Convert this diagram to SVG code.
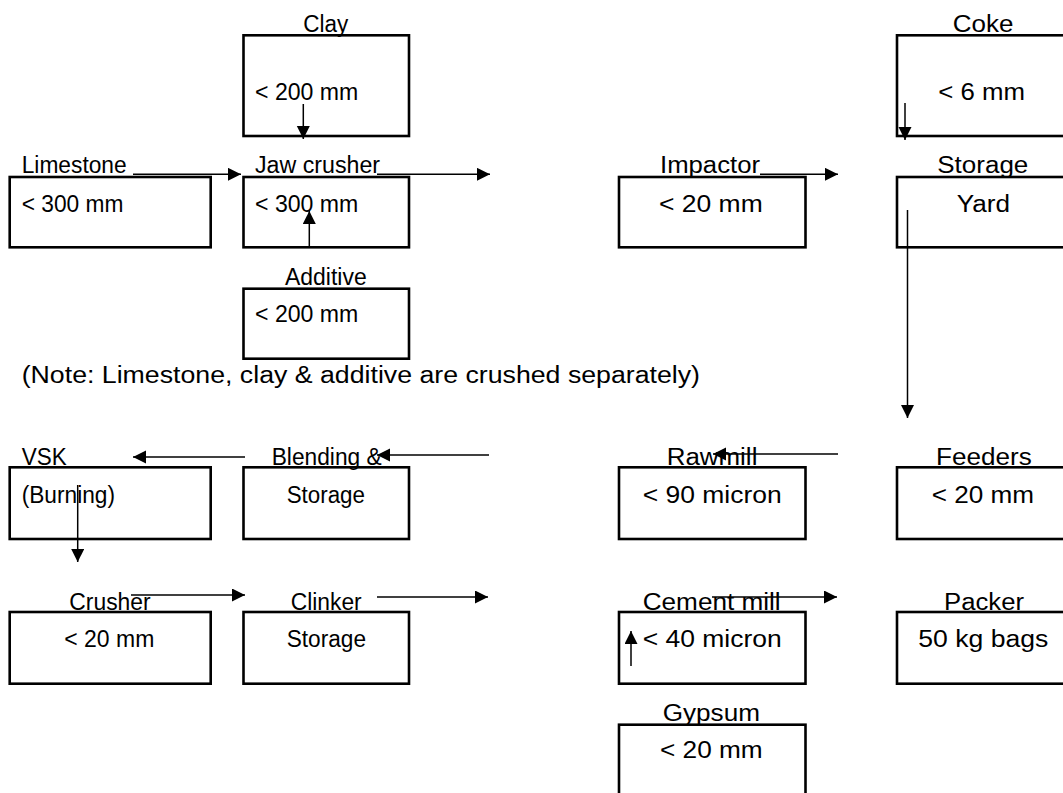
<svg xmlns="http://www.w3.org/2000/svg" width="1063" height="793" viewBox="0 0 1063 793">
<style>
.box{fill:none;stroke:#000;stroke-width:2.6}
.t{font-family:"Liberation Sans",Arial,Helvetica,sans-serif;font-size:23px;fill:#000}
.c{fill:none;stroke:#000;stroke-width:1.5;marker-end:url(#ah)}
</style>
<defs>
<marker id="ah" markerUnits="userSpaceOnUse" markerWidth="14" markerHeight="14" refX="13" refY="6.5" orient="auto">
<path d="M0,0 L13,6.5 L0,13 Z" fill="#000"/>
</marker>
</defs>
<rect width="1063" height="793" fill="#fff"/>
<g id="clay">
<rect class="box" x="243.5" y="35.3" width="165.5" height="100.7"/>
<text class="t" x="303.3" y="32.3" textLength="45" lengthAdjust="spacingAndGlyphs">Clay</text>
<text class="t" x="255" y="100" textLength="103.3" lengthAdjust="spacingAndGlyphs">&lt; 200 mm</text>
</g>
<g id="limestone">
<rect class="box" x="9.7" y="177" width="201" height="70.3"/>
<text class="t" x="21.7" y="173" textLength="105" lengthAdjust="spacingAndGlyphs">Limestone</text>
<text class="t" x="21.7" y="211.7" textLength="101.7" lengthAdjust="spacingAndGlyphs">&lt; 300 mm</text>
</g>
<g id="jaw-crusher">
<rect class="box" x="243.5" y="177" width="165.5" height="70.3"/>
<text class="t" x="255" y="173" textLength="125" lengthAdjust="spacingAndGlyphs">Jaw crusher</text>
<text class="t" x="255" y="211.7" textLength="103.3" lengthAdjust="spacingAndGlyphs">&lt; 300 mm</text>
</g>
<g id="additive">
<rect class="box" x="243.5" y="288.7" width="165.5" height="70"/>
<text class="t" x="285" y="285" textLength="81.7" lengthAdjust="spacingAndGlyphs">Additive</text>
<text class="t" x="255" y="321.7" textLength="103.3" lengthAdjust="spacingAndGlyphs">&lt; 200 mm</text>
</g>
<g id="impactor">
<rect class="box" x="619" y="177" width="186.5" height="70.3"/>
<text class="t" x="660" y="173" textLength="100" lengthAdjust="spacingAndGlyphs">Impactor</text>
<text class="t" x="659" y="211.7" textLength="103.7" lengthAdjust="spacingAndGlyphs">&lt; 20 mm</text>
</g>
<g id="coke">
<rect class="box" x="897" y="35.3" width="180" height="100.7"/>
<text class="t" x="952.7" y="32.3" textLength="60.7" lengthAdjust="spacingAndGlyphs">Coke</text>
<text class="t" x="938.3" y="100" textLength="86.7" lengthAdjust="spacingAndGlyphs">&lt; 6 mm</text>
</g>
<g id="storage-yard">
<rect class="box" x="897" y="177" width="180" height="70.3"/>
<text class="t" x="937.3" y="173" textLength="91" lengthAdjust="spacingAndGlyphs">Storage</text>
<text class="t" x="956.7" y="211.7" textLength="53.3" lengthAdjust="spacingAndGlyphs">Yard</text>
</g>
<g id="note">
<text class="t" x="21.7" y="382.7" textLength="678.3" lengthAdjust="spacingAndGlyphs">(Note: Limestone, clay &amp; additive are crushed separately)</text>
</g>
<g id="vsk">
<rect class="box" x="9.7" y="467.3" width="201" height="71.7"/>
<text class="t" x="21.7" y="465" textLength="45" lengthAdjust="spacingAndGlyphs">VSK</text>
<text class="t" x="21.7" y="503" textLength="93.3" lengthAdjust="spacingAndGlyphs">(Burning)</text>
</g>
<g id="blending">
<rect class="box" x="243.5" y="467.3" width="165.5" height="71.7"/>
<text class="t" x="271.7" y="465" textLength="110" lengthAdjust="spacingAndGlyphs">Blending &amp;</text>
<text class="t" x="286.7" y="503" textLength="78.3" lengthAdjust="spacingAndGlyphs">Storage</text>
</g>
<g id="rawmill">
<rect class="box" x="619" y="467.3" width="186.5" height="71.7"/>
<text class="t" x="666.7" y="465" textLength="90.7" lengthAdjust="spacingAndGlyphs">Rawmill</text>
<text class="t" x="642.7" y="503" textLength="139" lengthAdjust="spacingAndGlyphs">&lt; 90 micron</text>
</g>
<g id="feeders">
<rect class="box" x="897" y="467.3" width="180" height="71.7"/>
<text class="t" x="936" y="465" textLength="95.7" lengthAdjust="spacingAndGlyphs">Feeders</text>
<text class="t" x="931.7" y="503" textLength="102.3" lengthAdjust="spacingAndGlyphs">&lt; 20 mm</text>
</g>
<g id="crusher">
<rect class="box" x="9.7" y="612" width="201" height="71.7"/>
<text class="t" x="69.3" y="610" textLength="81.3" lengthAdjust="spacingAndGlyphs">Crusher</text>
<text class="t" x="64.3" y="646.5" textLength="90" lengthAdjust="spacingAndGlyphs">&lt; 20 mm</text>
</g>
<g id="clinker">
<rect class="box" x="243.5" y="612" width="165.5" height="71.7"/>
<text class="t" x="290.7" y="610" textLength="71" lengthAdjust="spacingAndGlyphs">Clinker</text>
<text class="t" x="286.7" y="646.5" textLength="79.3" lengthAdjust="spacingAndGlyphs">Storage</text>
</g>
<g id="cement-mill">
<rect class="box" x="619" y="612" width="186.5" height="71.7"/>
<text class="t" x="642.7" y="610" textLength="138" lengthAdjust="spacingAndGlyphs">Cement mill</text>
<text class="t" x="642.7" y="646.5" textLength="139" lengthAdjust="spacingAndGlyphs">&lt; 40 micron</text>
</g>
<g id="packer">
<rect class="box" x="897" y="612" width="180" height="71.7"/>
<text class="t" x="944" y="610" textLength="80" lengthAdjust="spacingAndGlyphs">Packer</text>
<text class="t" x="918.3" y="646.5" textLength="130" lengthAdjust="spacingAndGlyphs">50 kg bags</text>
</g>
<g id="gypsum">
<rect class="box" x="619" y="724.7" width="186.5" height="90"/>
<text class="t" x="662.7" y="721" textLength="97.3" lengthAdjust="spacingAndGlyphs">Gypsum</text>
<text class="t" x="660" y="757.5" textLength="102.7" lengthAdjust="spacingAndGlyphs">&lt; 20 mm</text>
</g>
<g id="connectors">
<line class="c" x1="303.3" y1="104" x2="303.3" y2="139"/>
<line class="c" x1="133" y1="174.3" x2="241" y2="174.3"/>
<line class="c" x1="377" y1="174.3" x2="490" y2="174.3"/>
<line class="c" x1="309.3" y1="248" x2="309.3" y2="211"/>
<line class="c" x1="760" y1="174.3" x2="838" y2="174.3"/>
<line class="c" x1="905" y1="103" x2="905" y2="140"/>
<line class="c" x1="907.5" y1="210" x2="907.5" y2="418"/>
<line class="c" x1="838" y1="454" x2="713" y2="454"/>
<line class="c" x1="489" y1="455" x2="377" y2="455"/>
<line class="c" x1="245" y1="457" x2="133" y2="457"/>
<line class="c" x1="77.7" y1="485" x2="77.7" y2="562"/>
<line class="c" x1="131" y1="595" x2="245" y2="595"/>
<line class="c" x1="377" y1="597" x2="488" y2="597"/>
<line class="c" x1="712" y1="597" x2="837" y2="597"/>
<line class="c" x1="631" y1="666" x2="631" y2="631"/>
</g>
</svg>
